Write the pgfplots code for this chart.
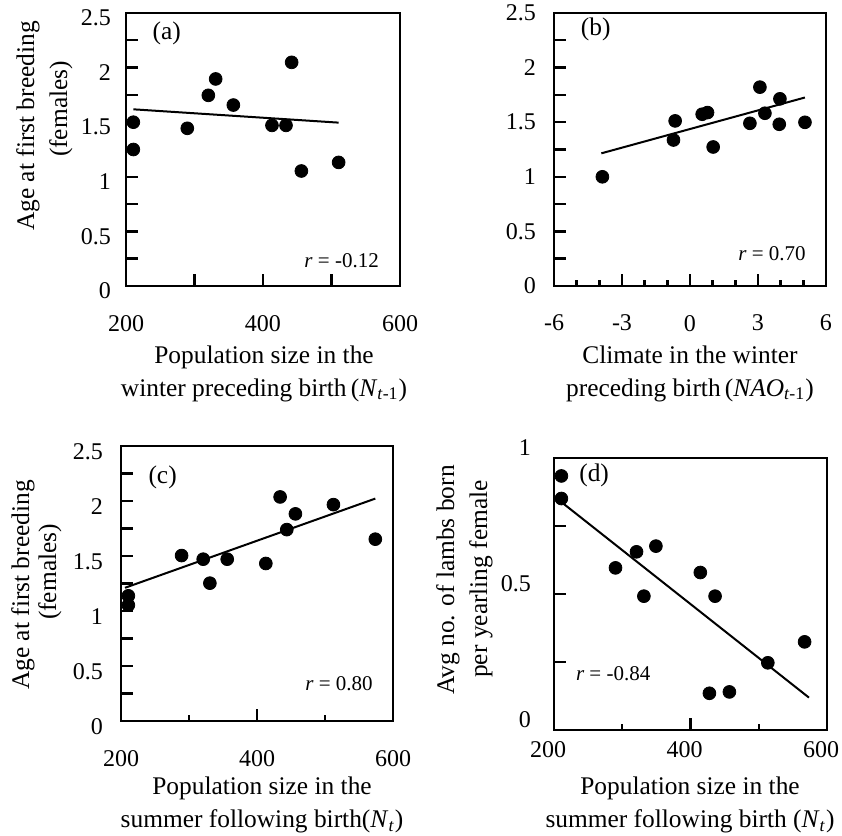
\documentclass[border=0pt]{standalone}
\usepackage{fontspec}
\setmainfont{Liberation Serif}
\usepackage{pgfplots}
\pgfplotsset{compat=1.18}
\newcommand\lab{\fontsize{12.7}{16.5}\selectfont}
\newcommand\rlab{\fontsize{10.5}{12}\selectfont}
\pgfplotsset{
  panel/.style={
    scale only axis,
    anchor=south west,
    axis line style={line width=1.2pt, black},
    tick style={black, line width=1.2pt},
    xtick pos=bottom,
    ytick pos=left,
    major tick length=6pt,
    minor tick length=3pt,
    tick label style={font=\fontsize{12}{14}\selectfont},
  },
  agey/.style={
    ymin=0, ymax=2.5,
    ytick={0,0.25,0.5,0.75,1,1.25,1.5,1.75,2,2.25,2.5},
    yticklabels={0,,0.5,,1,,1.5,,2,,2.5},
  },
  dots/.style={only marks, mark=*, mark size=3.2pt, black},
  fit/.style={no marks, black, line width=1pt},
}
\newcommand\frameit[1]{%
  \draw[black, line width=1.2pt] (#1.south west) -- (#1.north west);
  \draw[black, line width=1.2pt] (#1.south east) -- (#1.north east);
}
\begin{document}
\begin{tikzpicture}
\useasboundingbox (0,0) rectangle (421pt,418pt);
% (a)
\begin{axis}[panel, agey, name=pa, at={(63pt,275pt)}, width=137pt, height=136.5pt,
  xmin=200, xmax=600, xtick={200,300,400,500,600}, xticklabels={200,,400,,600},
  xticklabel style={yshift=-11pt}, yticklabel style={xshift=-4pt, yshift=-2.5pt}]
\addplot[fit] coordinates {(210.7,1.618) (510.4,1.496)};
\addplot[dots] coordinates {
(210.7,1.50) (210.7,1.25) (289.5,1.444) (320.2,1.746) (330.9,1.896) (356.7,1.657)
(413.1,1.471) (433.6,1.471) (441.8,2.048) (456.0,1.053) (510.4,1.132)};
\node[font=\lab] at (axis cs:259.4,2.31) {(a)};
\node[font=\rlab] at (axis cs:514.8,0.235) {\textit{r} = -0.12};
\end{axis}
% (b)
\begin{axis}[panel, agey, name=pb, at={(277pt,275pt)}, width=136pt, height=136.5pt,
  xmin=-6, xmax=6, xtick={-6,-3,0,3,6}, xticklabels={-6,-3,0,3,6},
  minor xtick={-5,-4,-2,-1,1,2,4,5},
  xticklabel style={yshift=-11pt}, yticklabel style={xshift=-5.5pt}]
\addplot[fit] coordinates {(-3.91,1.215) (5.07,1.726)};
\addplot[dots] coordinates {
(-3.865,1.00) (-0.729,1.337) (-0.655,1.512) (0.537,1.573) (0.773,1.588) (1.023,1.273)
(2.643,1.490) (3.085,1.821) (3.306,1.582) (3.968,1.714) (3.939,1.481) (5.073,1.499)};
\node[font=\lab] at (axis cs:-4.16,2.347) {(b)};
\node[font=\rlab] at (axis cs:3.615,0.297) {\textit{r} = 0.70};
\end{axis}
% (c)
\begin{axis}[panel, agey, name=pc, at={(60.5pt,57.5pt)}, width=136pt, height=137.5pt,
  xmin=200, xmax=600, xtick={200,400,600}, xticklabels={200,400,600},
  minor xtick={300,500},
  xticklabel style={yshift=-11pt}, yticklabel style={xshift=-5.5pt, yshift=-3pt}]
\addplot[fit] coordinates {(205.9,1.211) (574.0,2.022)};
\addplot[dots] coordinates {
(210.8,1.138) (210.8,1.053) (289.1,1.504) (320.9,1.471) (330.7,1.253) (356.2,1.471)
(413.0,1.432) (434.0,2.037) (443.8,1.740) (456.5,1.883) (512.4,1.967) (574.0,1.653)};
\node[font=\lab] at (axis cs:261.2,2.218) {(c)};
\node[font=\rlab] at (axis cs:520.7,0.342) {\textit{r} = 0.80};
\end{axis}
% (d)
\begin{axis}[panel, name=pd, at={(277pt,53pt)}, width=136.5pt, height=136pt,
  xmin=200, xmax=600, xtick={200,400,600}, xticklabels={200,400,600},
  minor xtick={300,500},
  ymin=0, ymax=1, ytick={0,0.25,0.5,0.75,1}, yticklabels={0,,0.5,,1},
  xticklabel style={yshift=-2pt, xshift=-3pt}, yticklabel style={xshift=-8pt, yshift=5pt}]
\addplot[fit] coordinates {(210.8,0.838) (573.6,0.119)};
\addplot[dots] coordinates {
(210.8,0.934) (210.8,0.851) (290.1,0.596) (320.9,0.655) (331.7,0.492) (349.3,0.676)
(414.4,0.579) (436.0,0.492) (427.7,0.135) (457.0,0.140) (513.3,0.247) (567.2,0.324)};
\node[font=\lab] at (axis cs:258.8,0.936) {(d)};
\node[font=\rlab] at (axis cs:286.7,0.206) {\textit{r} = -0.84};
\end{axis}
\frameit{pa}
\frameit{pb}
\frameit{pc}
\frameit{pd}
% axis titles
\node[align=center, font=\lab] at (132pt,231.25pt) {Population size in the\\winter preceding birth\,(\textit{N}\textsubscript{\textit{t}-1})};
\node[align=center, font=\lab] at (345pt,231.25pt) {Climate in the winter\\preceding birth\,(\textit{NAO}\textsubscript{\textit{t}-1})};
\node[align=center, font=\lab] at (131pt,15.5pt) {Population size in the\\summer following birth(\textit{N}\textsubscript{\textit{t}})};
\node[align=center, font=\lab] at (345pt,15.5pt) {Population size in the\\summer following birth (\textit{N}\textsubscript{\textit{t}})};
\node[rotate=90, font=\lab] at (14pt,355pt) {Age at first breeding};
\node[rotate=90, font=\lab] at (30.5pt,363.5pt) {(females)};
\node[rotate=90, font=\lab] at (11.5pt,125.5pt) {Age at first breeding};
\node[rotate=90, font=\lab] at (25pt,132pt) {(females)};
\node[rotate=90, font=\lab] at (224pt,128pt) {Avg no. of lambs born};
\node[rotate=90, font=\lab] at (240.5pt,128.5pt) {per yearling female};
\end{tikzpicture}
\end{document}
